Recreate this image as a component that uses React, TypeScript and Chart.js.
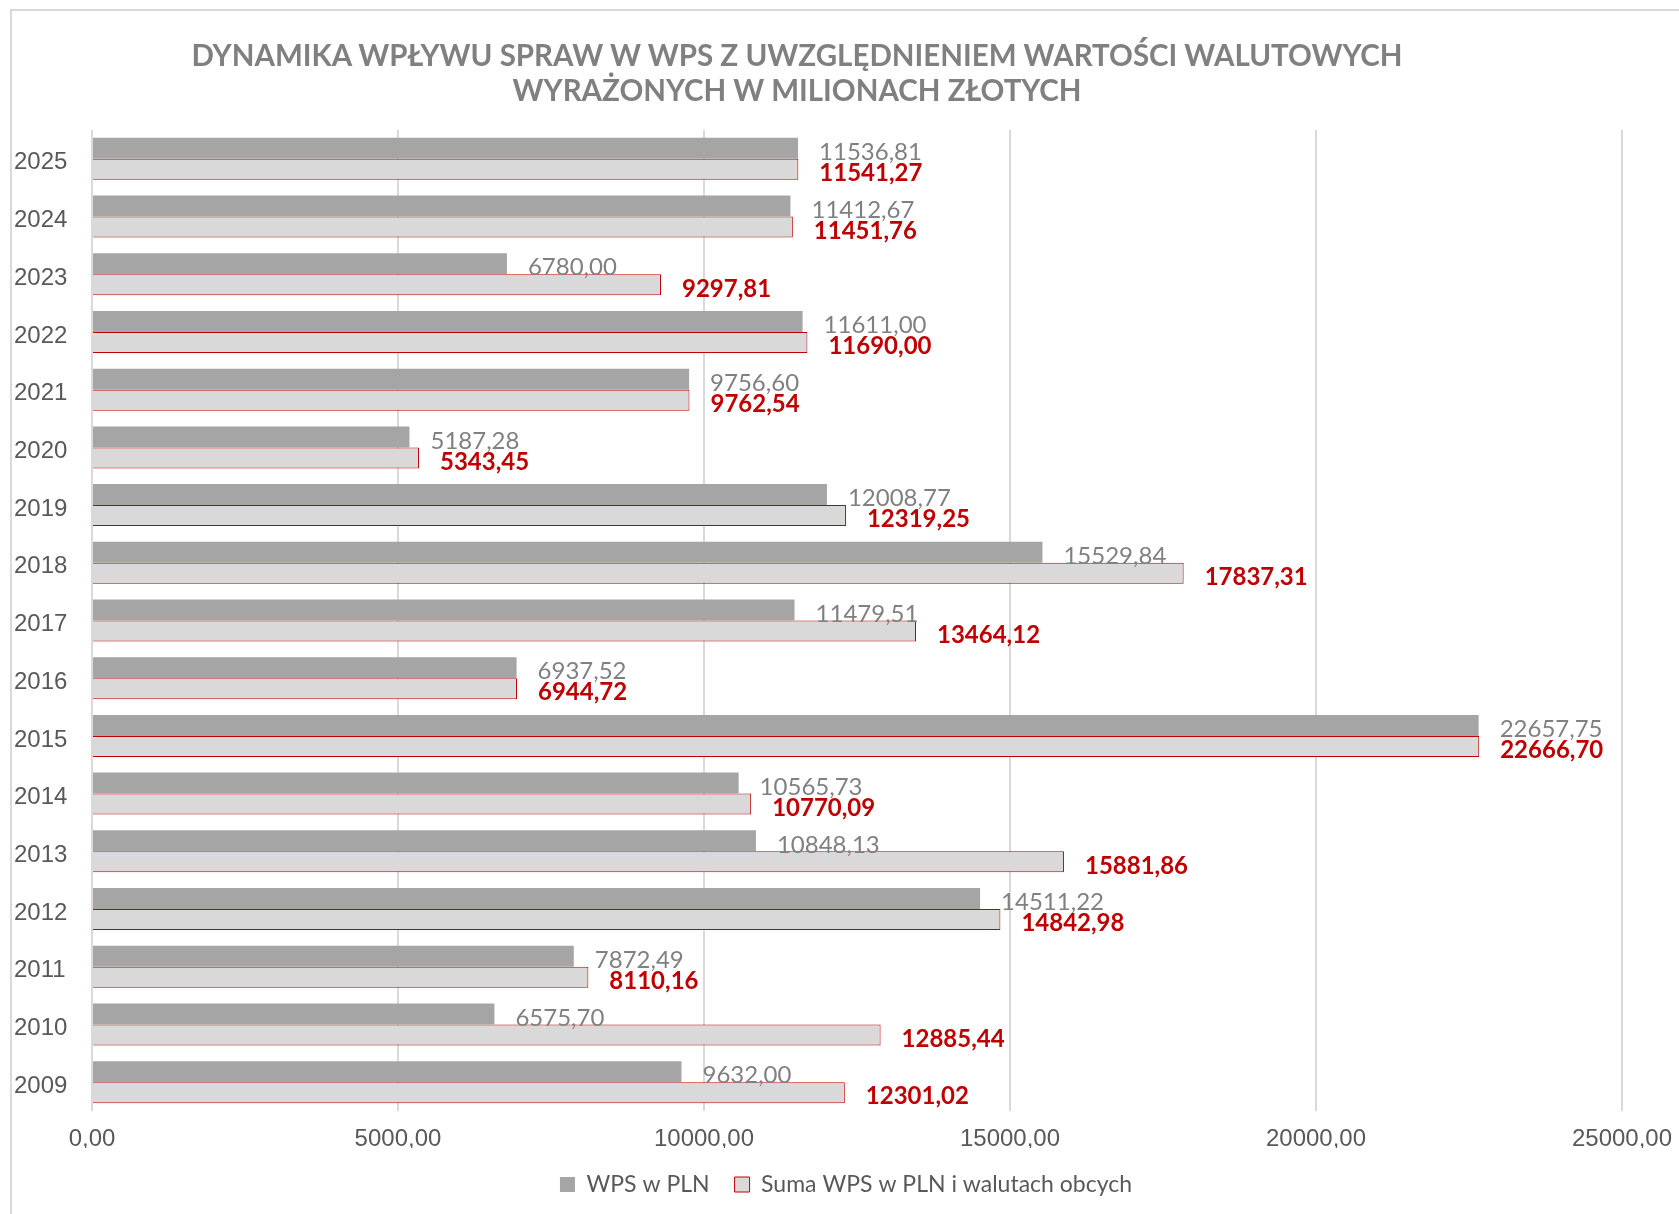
import { useEffect, useRef } from "react";
import { Chart, registerables } from "chart.js";

Chart.register(...registerables);

const years = ["2025", "2024", "2023", "2022", "2021", "2020", "2019", "2018", "2017", "2016", "2015", "2014", "2013", "2012", "2011", "2010", "2009"];
const wpsPln = [11536.81, 11412.67, 6780.0, 11611.0, 9756.6, 5187.28, 12008.77, 15529.84, 11479.51, 6937.52, 22657.75, 10565.73, 10848.13, 14511.22, 7872.49, 6575.7, 9632.0];
const wpsTotal = [11541.27, 11451.76, 9297.81, 11690.0, 9762.54, 5343.45, 12319.25, 17837.31, 13464.12, 6944.72, 22666.7, 10770.09, 15881.86, 14842.98, 8110.16, 12885.44, 12301.02];
const seriesNames = ["WPS w PLN", "Suma WPS w PLN i walutach obcych"];
const xMin = 0;
const xMax = 25000;
const xStep = 5000;
const titleLines = [
  "DYNAMIKA WPŁYWU SPRAW W WPS Z UWZGLĘDNIENIEM WARTOŚCI WALUTOWYCH",
  "WYRAŻONYCH W MILIONACH ZŁOTYCH",
];

const fmt = (v: number) => v.toFixed(2).replace(".", ",");

const valueLabels = {
  id: "valueLabels",
  afterDatasetsDraw(chart: any) {
    const ctx = chart.ctx;
    chart.data.datasets.forEach((ds: any, di: number) => {
      const meta = chart.getDatasetMeta(di);
      meta.data.forEach((el: any, i: number) => {
        const v = ds.data[i] as number;
        ctx.save();
        ctx.font = di === 0 ? "400 24px Lato" : "700 24px Lato";
        ctx.fillStyle = di === 0 ? "#808080" : "#c00000";
        ctx.textBaseline = "middle";
        ctx.textAlign = "left";
        ctx.fillText(fmt(v), el.x + 21, el.y + 4);
        ctx.restore();
      });
    });
  },
};

const legendShift = {
  id: "legendShift",
  afterLayout(chart: any) {
    const lg = chart.legend;
    if (lg) {
      lg.left -= 11;
      lg.right -= 11;
    }
  },
};

export default function App() {
  const ref = useRef<HTMLCanvasElement | null>(null);

  useEffect(() => {
    if (!ref.current) return;
    const chart = new Chart(ref.current, {
      type: "bar",
      data: {
        labels: years,
        datasets: [
          {
            label: seriesNames[0],
            data: wpsPln,
            backgroundColor: "#a5a5a5",
            borderWidth: 0,
            categoryPercentage: 0.728,
            barPercentage: 1,
          },
          {
            label: seriesNames[1],
            data: wpsTotal,
            backgroundColor: "#d9d9d9",
            borderColor: "#c00000",
            borderWidth: 1,
            categoryPercentage: 0.728,
            barPercentage: 1,
          },
        ],
      },
      options: {
        indexAxis: "y",
        responsive: false,
        animation: false,
        layout: { padding: { left: 14, right: 57, top: 130, bottom: 8 } },
        scales: {
          x: {
            min: xMin,
            max: xMax,
            ticks: {
              stepSize: xStep,
              callback: (v: any) => fmt(Number(v)),
              font: { family: "'Liberation Sans', Arial, sans-serif", size: 24 },
              color: "#595959",
              padding: 14,
              maxRotation: 0,
            },
            grid: { color: "#d9d9d9", lineWidth: 2, drawTicks: false },
            border: { display: false },
            afterFit: (s: any) => {
              s.height = 37;
              s.paddingRight = 0;
              s.paddingLeft = 0;
            },
          },
          y: {
            ticks: {
              font: { family: "'Liberation Sans', Arial, sans-serif", size: 24 },
              color: "#595959",
              crossAlign: "far",
              labelOffset: 4,
            },
            grid: { display: false },
            border: { display: false },
            afterFit: (s: any) => {
              s.width = 78;
            },
          },
        },
        plugins: {
          title: { display: false },
          tooltip: { enabled: false },
          legend: {
            position: "bottom",
            fullSize: false,
            labels: {
              font: { family: "Lato", size: 23 },
              color: "#595959",
              boxWidth: 15,
              boxHeight: 15,
              padding: 25,
            },
          },
        },
      },
      plugins: [valueLabels, legendShift],
    } as any);
    return () => chart.destroy();
  }, []);

  return (
    <div style={{ position: "absolute", left: 0, top: 0, width: 1679, height: 1214, overflow: "hidden", background: "#fff" }}>
      <div
        style={{
          position: "absolute",
          left: 10,
          top: 9,
          width: 1800,
          height: 1400,
          borderLeft: "2px solid #d9d9d9",
          borderTop: "2px solid #d9d9d9",
        }}
      />
      <canvas ref={ref} width={1679} height={1214} style={{ position: "absolute", left: 0, top: 0 }} />
      <div
        style={{
          position: "absolute",
          left: 97,
          top: 37,
          width: 1400,
          textAlign: "center",
          font: "700 29.5px Lato",
          lineHeight: "35px",
          color: "#808080",
        }}
      >
        {titleLines.map((t) => (
          <div key={t}>{t}</div>
        ))}
      </div>
    </div>
  );
}
